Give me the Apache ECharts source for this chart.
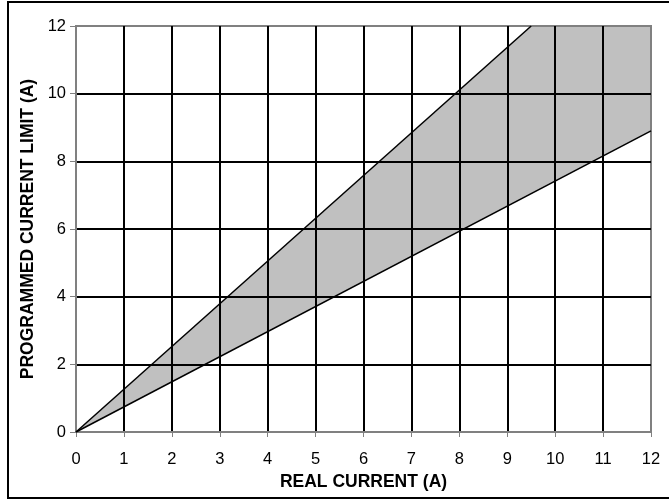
<!DOCTYPE html>
<html>
<head>
<meta charset="utf-8">
<script src="https://cdn.jsdelivr.net/npm/echarts@6/dist/echarts.min.js"></script>
<style>html,body{margin:0;padding:0;background:#fff}#c{width:669px;height:500px}</style>
</head>
<body>
<div id="c"></div>
<script>
// Data
const xTicks = [0,1,2,3,4,5,6,7,8,9,10,11,12];
const yTicks = [0,2,4,6,8,10,12];
const upperLine = [[0, 0], [9.5, 12]];     // upper limit line (leaves plot at top)
const lowerLine = [[0, 0], [12, 8.9]];     // lower limit line
const bandCorner = [[12, 12]];             // top-right corner of the shaded band
const xName = 'REAL CURRENT (A)';
const yName = 'PROGRAMMED CURRENT LIMIT (A)';

const bandPolygon = upperLine.concat(bandCorner, lowerLine.slice().reverse());

const chart = echarts.init(document.getElementById('c'));
const font = '"Liberation Sans", Arial, sans-serif';
chart.setOption({
  backgroundColor: '#fff',
  animation: false,
  grid: { left: 76, right: 18, top: 26, bottom: 68, show: true, borderColor: '#808080', borderWidth: 2 },
  xAxis: {
    type: 'value', min: xTicks[0], max: xTicks[xTicks.length-1], interval: 1,
    name: xName, nameLocation: 'middle', nameGap: 37,
    nameTextStyle: { fontFamily: font, fontWeight: 'bold', fontSize: 17.5, color: '#000' },
    axisLine: { show: true, lineStyle: { color: '#808080', width: 2 } },
    axisTick: { show: true, length: 5, lineStyle: { color: '#808080', width: 1 } },
    axisLabel: { fontFamily: font, fontSize: 16.5, color: '#000', margin: 19 },
    splitLine: { show: true, showMinLine: false, showMaxLine: false, lineStyle: { color: '#000', width: 2 } }
  },
  yAxis: {
    type: 'value', min: yTicks[0], max: yTicks[yTicks.length-1], interval: 2,
    name: yName, nameLocation: 'middle', nameGap: 33,
    nameTextStyle: { fontFamily: font, fontWeight: 'bold', fontSize: 17.5, color: '#000' },
    axisLine: { show: true, lineStyle: { color: '#808080', width: 2 } },
    axisTick: { show: true, length: 6, lineStyle: { color: '#808080', width: 1 } },
    axisLabel: { fontFamily: font, fontSize: 16.5, color: '#000', margin: 10 },
    splitLine: { show: true, showMinLine: false, showMaxLine: false, lineStyle: { color: '#000', width: 2 } }
  },
  graphic: [{
    type: 'rect', shape: { x: 8, y: 2, width: 680, height: 496 },
    style: { fill: 'none', stroke: '#000', lineWidth: 2 }, silent: true
  }],
  series: [
    {
      type: 'custom', z: -1, silent: true,
      data: [0],
      renderItem: function (params, api) {
        const pts = bandPolygon.map(p => api.coord(p));
        return { type: 'polygon', shape: { points: pts }, style: { fill: '#c0c0c0', stroke: 'none' } };
      }
    },
    { type: 'line', data: upperLine, symbol: 'none', lineStyle: { color: '#000', width: 1.5 }, z: 5 },
    { type: 'line', data: lowerLine, symbol: 'none', lineStyle: { color: '#000', width: 1.5 }, z: 5 }
  ]
});
</script>
</body>
</html>
